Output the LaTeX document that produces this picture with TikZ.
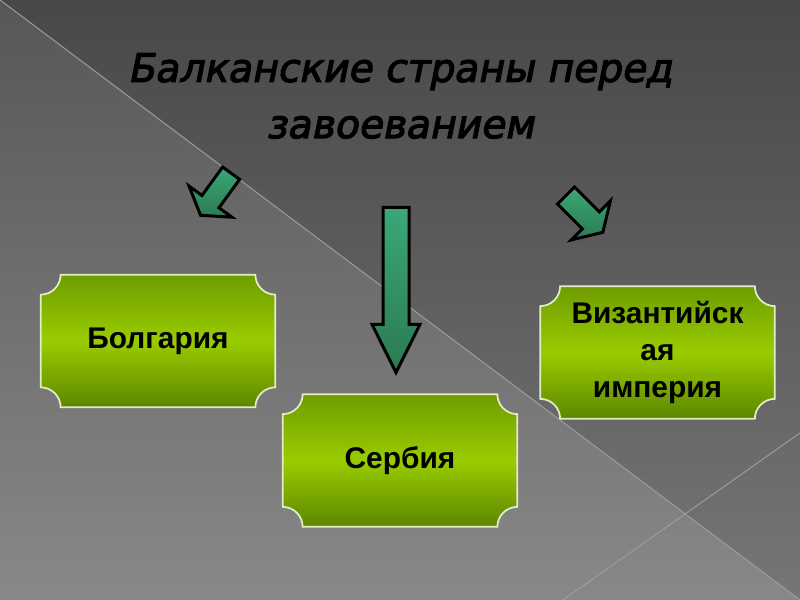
\documentclass[tikz,border=0pt]{standalone}
\usepackage{fontspec}
\setmainfont{Liberation Sans}
\newfontfamily\titlefont[FakeBold=3, FakeSlant=0.2]{DejaVu Sans}
\usepackage{tikz}
\usetikzlibrary{calc,shapes.arrows,backgrounds}
\definecolor{fondoA}{HTML}{484848}
\definecolor{fondoAb}{HTML}{767676}
\definecolor{fondoB}{HTML}{575757}
\definecolor{fondoBb}{HTML}{888888}
\definecolor{raya}{HTML}{9C9C9C}
\definecolor{verdeTop}{HTML}{6E9C00}
\definecolor{verdeMid}{HTML}{99CC00}
\definecolor{verdeBot}{HTML}{5C8600}
\definecolor{borde}{HTML}{E4ECC4}
\definecolor{flechaA}{HTML}{3AA876}
\definecolor{flechaB}{HTML}{2B7A52}

\newcommand\plate[1]{%
  \path[platefill] ($(#1.north west)+(20,0)$) -- ($(#1.north east)+(-20,0)$)
    arc[start angle=180, end angle=90, radius=20]
    -- ($(#1.south east)+(0,-20)$)
    arc[start angle=270, end angle=180, radius=20]
    -- ($(#1.south west)+(20,0)$)
    arc[start angle=0, end angle=-90, radius=20]
    -- ($(#1.north west)+(0,20)$)
    arc[start angle=90, end angle=0, radius=20] -- cycle;}

\begin{document}
\begin{tikzpicture}[
  x=0.2mm, y=-0.2mm,
  heading/.style={align=center, font=\titlefont\fontsize{22.3}{32}\selectfont},
  box/.style={rectangle, minimum width=46.8mm, minimum height=26.4mm, inner sep=0pt, align=center, font=\bfseries\fontsize{17}{21}\selectfont},
  platefill/.style={draw=borde, line width=0.35mm, top color=verdeTop, bottom color=verdeBot, middle color=verdeMid},
  greenarrow/.style={single arrow, anchor=tail, draw=black, line width=0.6mm, top color=flechaA, bottom color=flechaB, inner xsep=0pt},
  bgline/.style={draw=raya, line width=0.2mm}
]
\useasboundingbox (0,0) rectangle (800,600);
\node[heading] (title) at (400,96) {Балканские страны перед\\завоеванием};
\node[box] (bulg) at (158,341) {Болгария};
\node[box] (serb) at (400,460.5) {Сербия};
\node[box] (byz) at (657.5,352.5) {Византийск\\ая\\империя};
\node[greenarrow, rotate=234, minimum height=10.4mm, minimum width=10mm, inner ysep=1.8mm, single arrow tip angle=115, single arrow head extend=3.2mm] (a1) at (232,172) {};
\node[greenarrow, rotate=-90, minimum height=33mm, minimum width=9mm, inner ysep=2.3mm, single arrow tip angle=53, single arrow head extend=2.2mm] (a2) at (396,206) {};
\node[greenarrow, rotate=-45, minimum height=10.4mm, minimum width=10.4mm, inner ysep=2.1mm, single arrow tip angle=117, single arrow head extend=3.1mm] (a3) at (565,194.5) {};
\begin{scope}[on background layer]
\shade[top color=fondoA, bottom color=fondoAb] (0,0) rectangle (800,600);
\shade[top color=fondoB, bottom color=fondoBb] (0,0) -- (800,600) -- (0,600) -- cycle;
\draw[bgline] (0,0) -- (800,600);
\draw[bgline] (800,433) -- (563,600);
\foreach \n in {bulg,serb,byz} {\plate{\n}}
\end{scope}
\end{tikzpicture}
\end{document}
